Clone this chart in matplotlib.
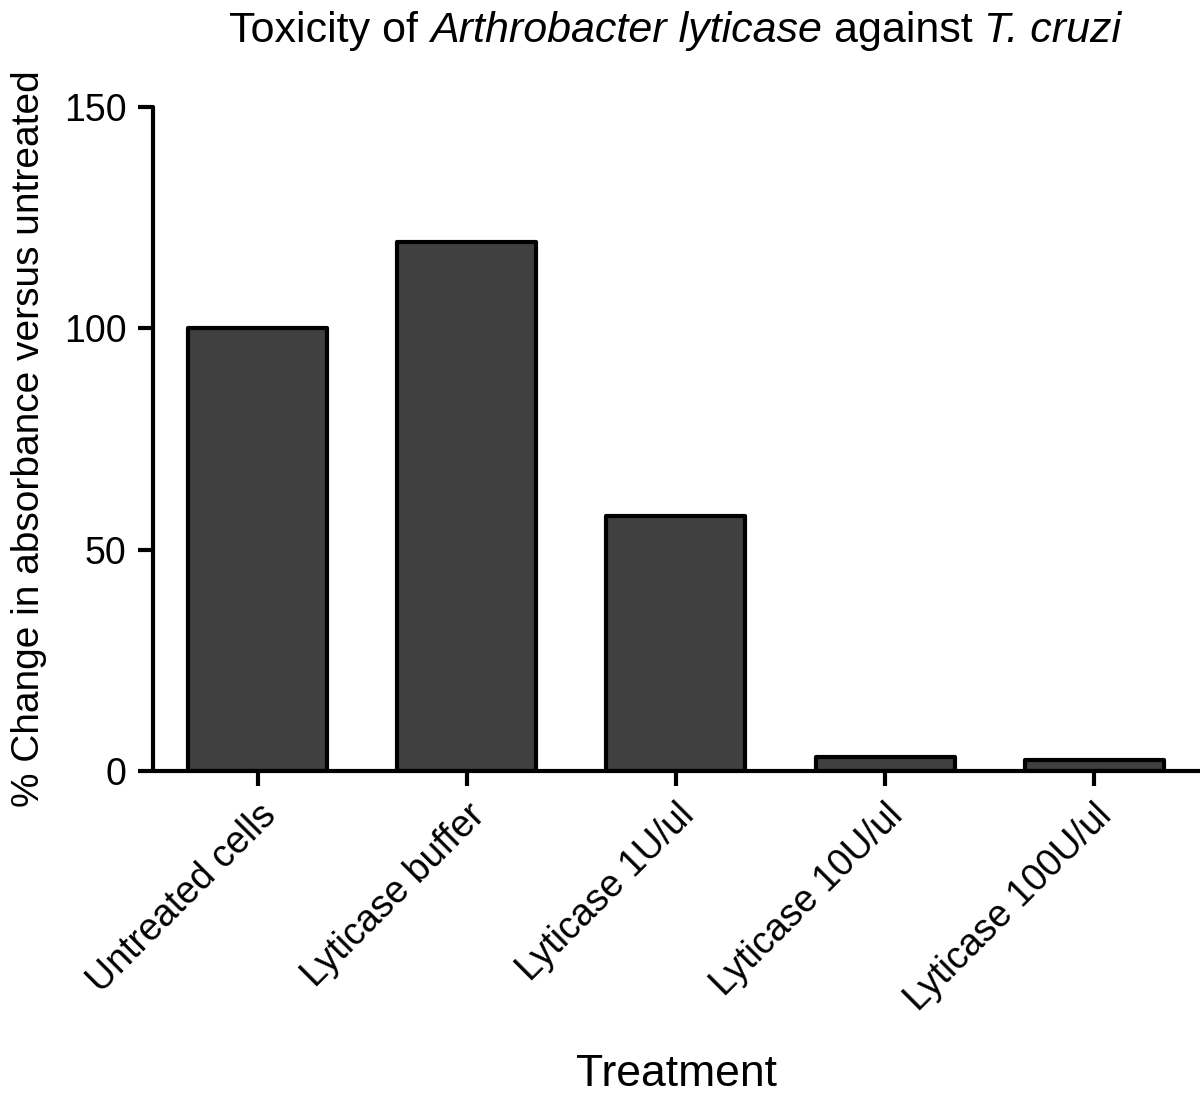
import matplotlib
matplotlib.use("Agg")
import matplotlib.pyplot as plt
from matplotlib import font_manager

plt.rcParams['font.family'] = ['Liberation Sans', 'DejaVu Sans']

treatments = ['Untreated cells', 'Lyticase buffer', 'Lyticase 1U/ul',
              'Lyticase 10U/ul', 'Lyticase 100U/ul']
pct_change = [100, 119.5, 57.6, 3.2, 2.5]
title_parts = [('Toxicity of ', 'normal'), ('Arthrobacter lyticase', 'italic'),
               (' against ', 'normal'), ('T. cruzi', 'italic')]

names = {f.name for f in font_manager.fontManager.ttflist}
title_font = 'Liberation Sans Narrow' if 'Liberation Sans Narrow' in names else 'Liberation Sans'
print(title_font)

fig = plt.figure(figsize=(12, 10.93), dpi=100)
ax = fig.add_axes([0.1275, 0.2946, 0.8725, 0.6075])

x = range(len(treatments))
ax.bar(x, pct_change, width=0.665, color='#404040', edgecolor='black',
       linewidth=3, joinstyle='round', zorder=2)

ax.set_xlim(-0.502, 4.507)
ax.set_ylim(0, 150)
ax.set_yticks([0, 50, 100, 150])
ax.set_xticks(list(x))
ax.set_xticklabels(treatments, rotation=45, ha='right', va='top',
                   rotation_mode='anchor')

for s in ['top', 'right']:
    ax.spines[s].set_visible(False)
for s in ['left', 'bottom']:
    ax.spines[s].set_linewidth(3)
    ax.spines[s].set_capstyle('round')
ax.tick_params(axis='both', width=3, length=11, labelsize=27, pad=8)

ax.set_ylabel('% Change in absorbance versus untreated', fontsize=28, labelpad=12)
ax.set_xlabel('Treatment', fontsize=32, labelpad=26)

# title in pieces so the species names can be italic
fig.canvas.draw()
r = fig.canvas.get_renderer()
texts = []
for s, st in title_parts:
    t = fig.text(0, 1 - 42 / 1093, s, fontsize=31, family=title_font,
                 style=st, va='baseline', ha='left')
    texts.append(t)
widths = [t.get_window_extent(r).width for t in texts]
total = sum(widths)
start = (675 * 1 - total / 2)
pos = start
for t, w in zip(texts, widths):
    t.set_x(pos / 1200)
    pos += w

fig.savefig('out.png', dpi=100)
